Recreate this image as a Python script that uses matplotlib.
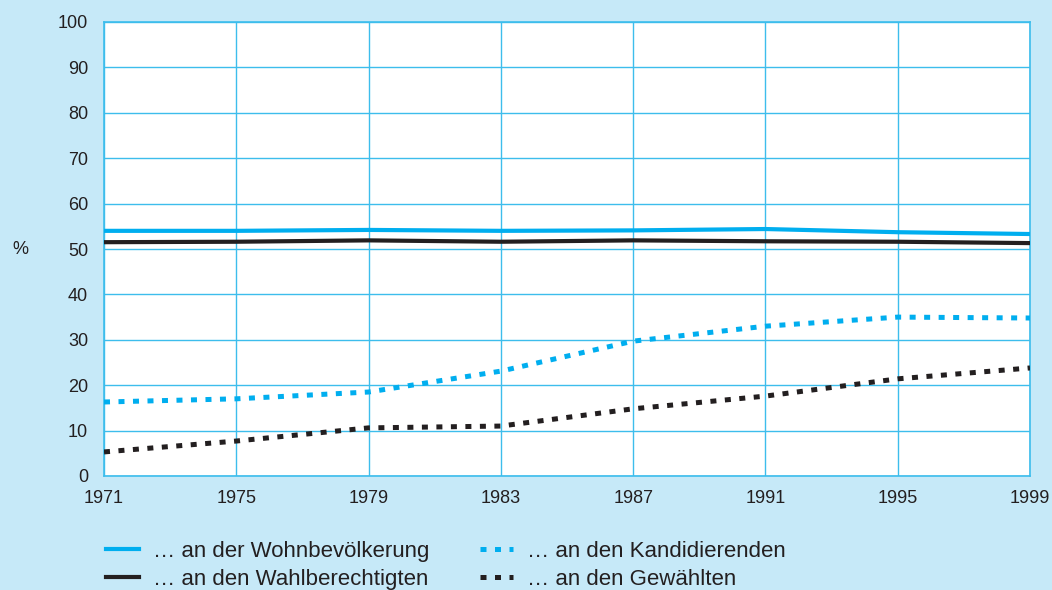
import matplotlib.pyplot as plt
import numpy as np

years = [1971, 1975, 1979, 1983, 1987, 1991, 1995, 1999]
wohnbevoelkerung = [54.0, 54.0, 54.2, 54.0, 54.1, 54.4, 53.7, 53.3]
wahlberechtigte = [51.5, 51.6, 51.9, 51.6, 51.9, 51.7, 51.6, 51.3]
kandidierende = [16.3, 17.0, 18.5, 23.1, 29.7, 33.0, 35.0, 34.8]
gewaehlte = [5.3, 7.7, 10.6, 11.0, 14.8, 17.6, 21.4, 23.8]

labels = [
    "\u2026 an der Wohnbev\u00f6lkerung",
    "\u2026 an den Wahlberechtigten",
    "\u2026 an den Kandidierenden",
    "\u2026 an den Gew\u00e4hlten",
]

cyan = "#00aeef"
dark = "#231f20"
grid_col = "#3dbdec"
bg = "#c6e9f8"

plt.rcParams["font.family"] = ["Liberation Sans", "DejaVu Sans"]

fig = plt.figure(figsize=(10.52, 5.90), dpi=100, facecolor=bg)
ax = fig.add_axes([104 / 1052, 1 - 476 / 590, 926 / 1052, 454 / 590])
ax.set_facecolor("white")

dot = (0, (1.2, 1.7))
ax.plot(years, wohnbevoelkerung, color=cyan, lw=3.0, label=labels[0], zorder=3)
ax.plot(years, wahlberechtigte, color=dark, lw=3.0, label=labels[1], zorder=3)
ax.plot(years, kandidierende, color=cyan, lw=3.6, linestyle=dot,
        dash_capstyle="butt", label=labels[2], zorder=3)
ax.plot(years, gewaehlte, color=dark, lw=3.6, linestyle=dot,
        dash_capstyle="butt", label=labels[3], zorder=3)

ax.set_xlim(1971, 1999)
ax.set_ylim(0, 100)
ax.set_xticks(years)
ax.set_yticks(np.arange(0, 101, 10))
ax.grid(True, color=grid_col, lw=1.0)
ax.set_axisbelow(True)
for s in ax.spines.values():
    s.set_color(grid_col)
    s.set_linewidth(1.2)
ax.tick_params(length=0, labelsize=13, colors=dark, pad=10)
ax.tick_params(axis="y", pad=11.5)

fig.text(12 / 1052, 1 - 250 / 590, "%", fontsize=13, color=dark,
         ha="left", va="center")

h, l = ax.get_legend_handles_labels()
leg = fig.legend(h, l, ncol=2, loc="upper left",
                 bbox_to_anchor=(86 / 1052, 1 - 521 / 590),
                 frameon=False, fontsize=16, handlelength=1.5,
                 handletextpad=0.6, columnspacing=2.3, labelspacing=0.32)
for t in leg.get_texts():
    t.set_color(dark)

fig.savefig("out.png", dpi=100, facecolor=bg)
